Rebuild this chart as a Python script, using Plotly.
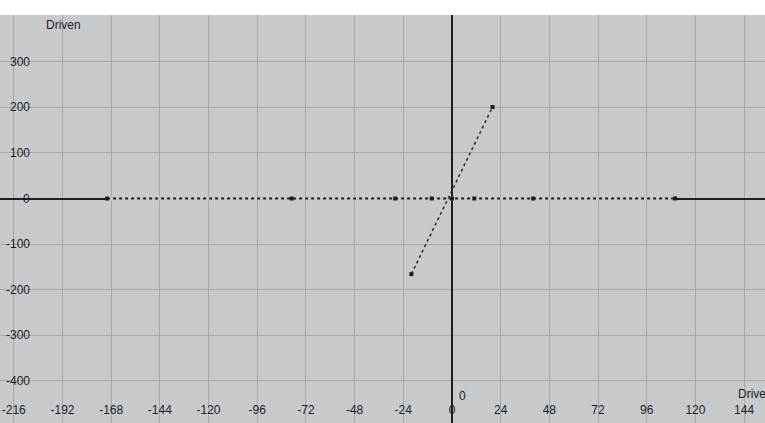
import plotly.graph_objects as go

# Data
flat_x = [-170, -79, -28, -10, 0, 11, 40, 110]
flat_y = [0, 0, 0, 0, 0, 0, 0, 0]
steep_x = [-20, 20]
steep_y = [-166, 201]

x_ticks = [-216, -192, -168, -144, -120, -96, -72, -48, -24, 0, 24, 48, 72, 96, 120, 144]
y_ticks = [-400, -300, -200, -100, 0, 100, 200, 300]
axis_title = "Driven"

W, H = 765, 423
BG = "#c8c9cc"
GRID = "#a6a7ab"
INK = "#1e1e1e"
FONT = "Liberation Sans, Arial, sans-serif"

fig = go.Figure()

# background-coloured underlay so the x axis line is hidden between dots
fig.add_trace(go.Scatter(x=flat_x, y=flat_y, mode="lines",
                         line=dict(color=BG, width=4), hoverinfo="skip", showlegend=False))
fig.add_trace(go.Scatter(x=flat_x, y=flat_y, mode="lines+markers",
                         line=dict(color=INK, width=2, dash="dot"),
                         marker=dict(symbol="square", size=4, color=INK),
                         showlegend=False))
fig.add_trace(go.Scatter(x=steep_x, y=steep_y, mode="lines+markers",
                         line=dict(color="#333333", width=1.6, dash="dot"),
                         marker=dict(symbol="square", size=4, color=INK),
                         showlegend=False))

# y tick labels drawn inside the plot, right aligned
for v in y_ticks:
    fig.add_annotation(x=0.042, xref="paper", y=v, yref="y", text=str(v),
                       xanchor="right", yanchor="middle", showarrow=False,
                       font=dict(family=FONT, size=12, color=INK))

fig.add_annotation(x=0.057, xref="paper", y=0.975, yref="paper", text=axis_title,
                   xanchor="left", yanchor="middle", showarrow=False,
                   font=dict(family=FONT, size=12, color=INK))
fig.add_annotation(x=0.962, xref="paper", y=0.07, yref="paper", text=axis_title,
                   xanchor="left", yanchor="middle", showarrow=False,
                   font=dict(family=FONT, size=12, color=INK))
fig.add_annotation(x=0, xref="x", y=0.065, yref="paper", text="0",
                   xanchor="left", yanchor="middle", showarrow=False, xshift=5,
                   font=dict(family=FONT, size=12, color=INK))

fig.update_xaxes(range=[-222.8, 154.3], tickvals=x_ticks, ticktext=[str(v) for v in x_ticks],
                 ticklabelposition="inside", ticks="", ticklabelstandoff=4,
                 showgrid=True, gridcolor=GRID, gridwidth=1,
                 zeroline=True, zerolinecolor=INK, zerolinewidth=2,
                 showline=False, tickfont=dict(family=FONT, size=12, color=INK))
fig.update_yaxes(range=[-493, 403], tickvals=y_ticks, showticklabels=False, ticks="",
                 showgrid=True, gridcolor=GRID, gridwidth=1,
                 zeroline=True, zerolinecolor=INK, zerolinewidth=2,
                 showline=False)

fig.update_layout(width=W, height=H, margin=dict(l=0, r=0, t=15, b=0),
                  paper_bgcolor="white", plot_bgcolor=BG,
                  font=dict(family=FONT, size=12, color=INK))

fig.write_html("out.html", config={"displayModeBar": False},
               post_script="document.body.style.margin='0';document.body.style.overflow='hidden';")
